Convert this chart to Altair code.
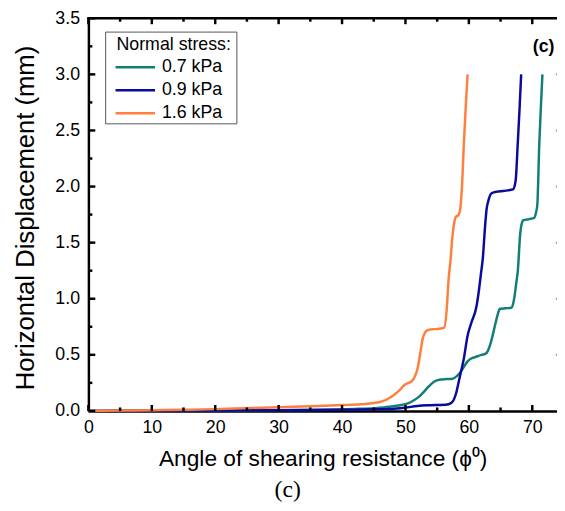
import altair as alt
import pandas as pd

# ---------------- data ----------------
names = ["0.7 kPa", "0.9 kPa", "1.6 kPa"]
colors = ["#127e78", "#0a0a9c", "#ff7f3f"]

x_07 = [0, 10, 20, 30, 37.4, 42, 45.2, 47.5, 49.3, 50.5, 51.4, 52.2, 52.9, 53.7, 54.5, 55.5,
        56.5, 57.4, 58.1, 58.7, 59.2, 59.7, 60.3, 61.0, 62.0, 62.6, 63.0, 63.3, 63.7, 64.1,
        64.5, 64.9, 65.8, 66.7, 67.0, 67.2, 67.45, 67.73, 68.1, 68.3, 68.6, 69.5, 70.3, 70.6,
        70.8, 71.1, 71.35, 71.6]
y_07 = [0, 0.002, 0.004, 0.007, 0.01, 0.017, 0.025, 0.037, 0.053, 0.07, 0.097, 0.13, 0.17,
        0.22, 0.26, 0.28, 0.284, 0.287, 0.31, 0.347, 0.39, 0.435, 0.465, 0.48, 0.5, 0.508,
        0.535, 0.58, 0.66, 0.757, 0.85, 0.91, 0.915, 0.92, 0.96, 1.02, 1.13, 1.256, 1.58,
        1.66, 1.70, 1.71, 1.72, 1.77, 1.84, 2.37, 2.7, 3.0]

x_09 = [0, 10, 20, 30, 40, 45, 47.8, 50, 51.9, 53.5, 55, 56.3, 56.8, 57.2, 57.6, 58.0, 58.4,
        58.8, 59.2, 59.8, 60.4, 61.2, 61.6, 61.9, 62.2, 62.55, 62.8, 63.06, 63.58, 64.5, 65.4,
        66.5, 66.95, 67.37, 67.7, 68.0, 68.25]
y_09 = [0, 0.002, 0.004, 0.006, 0.01, 0.014, 0.018, 0.03, 0.044, 0.05, 0.053, 0.055, 0.059,
        0.07, 0.097, 0.16, 0.26, 0.36, 0.464, 0.67, 0.787, 0.93, 1.08, 1.22, 1.36, 1.64, 1.8,
        1.87, 1.94, 1.955, 1.96, 1.97, 1.975, 2.05, 2.37, 2.7, 3.0]

x_16 = [0, 5, 10, 15, 20, 25, 30, 35, 40, 43, 46, 47.8, 49, 49.8, 50.5, 51.1, 51.5, 51.9, 52.3,
        52.7, 53.1, 53.5, 54.2, 55, 56.1, 56.5, 56.8, 57.1, 57.4, 57.7, 57.9, 58.4, 58.7, 59.0,
        59.2, 59.5, 59.8]
y_16 = [0, 0.003, 0.006, 0.01, 0.016, 0.025, 0.033, 0.042, 0.052, 0.06, 0.08, 0.127, 0.18,
        0.229, 0.25, 0.272, 0.31, 0.376, 0.5, 0.64, 0.7, 0.72, 0.728, 0.73, 0.743, 0.9, 1.17,
        1.34, 1.55, 1.68, 1.725, 1.75, 1.83, 2.1, 2.37, 2.7, 3.0]

x_label_values = [0, 10, 20, 30, 40, 50, 60, 70]
x_minor_values = [5, 15, 25, 35, 45, 55, 65]
y_label_values = [0, 0.5, 1.0, 1.5, 2.0, 2.5, 3.0, 3.5]
y_minor_values = [0.25, 0.75, 1.25, 1.75, 2.25, 2.75, 3.25]

x_title = "Angle of shearing resistance (\u03d5\u2070)"
y_title = "Horizontal Displacement (mm)"
legend_title = "Normal stress:"
panel_tag = "(c)"
caption = "(c)"

# ---------------- build table ----------------
rows = []
for name, xs_, ys_ in zip(names, [x_07, x_09, x_16], [y_07, y_09, y_16]):
    for a, b in zip(xs_, ys_):
        rows.append({"series": name, "x": a, "y": b})
df = pd.DataFrame(rows)

W, H = 475, 398
FONT = "Liberation Sans"
xscale = alt.Scale(domain=[0, 73.9], nice=False, zero=False)
yscale = alt.Scale(domain=[0, 3.5], nice=False, zero=False)

x_axis = alt.Axis(
    orient="bottom", values=x_label_values, ticks=False, tickSize=0, grid=False,
    domain=True, domainColor="black", domainWidth=2.5,
    labelFontSize=18, labelColor="black", labelPadding=8, labelFlush=False, labelFont=FONT,
    title=x_title, titleFontSize=23, titleFontWeight="normal", titleColor="black",
    titleFont=FONT, titleX=237.5, titleY=55, titleBaseline="alphabetic", titleAlign="center")
y_axis = alt.Axis(
    orient="left", values=y_label_values, format=".1f", ticks=False, tickSize=0, grid=False,
    domain=True, domainColor="black", domainWidth=2.5,
    labelFontSize=18, labelColor="black", labelPadding=9, labelFont=FONT,
    title=y_title, titleFontSize=26, titleFontWeight="normal", titleColor="black",
    titleFont=FONT, titleX=-56, titleY=202, titleAngle=270, titleBaseline="alphabetic",
    titleAlign="center")

lines = alt.Chart(df).mark_line(strokeWidth=2.5, interpolate="monotone").encode(
    x=alt.X("x:Q", scale=xscale, axis=x_axis),
    y=alt.Y("y:Q", scale=yscale, axis=y_axis),
    color=alt.Color("series:N", scale=alt.Scale(domain=names, range=colors), legend=alt.Legend(
        orient="none", legendX=28.5, legendY=17.7, padding=0,
        title=legend_title, titleFontSize=18, titleFontWeight="normal", titleColor="black",
        titleFont=FONT, titlePadding=5,
        labelFontSize=18, labelColor="black", labelFont=FONT,
        symbolType="M-4,0H4", symbolSize=100, symbolStrokeWidth=2.5, symbolOffset=10,
        labelOffset=18, rowPadding=5.3)),
)

# ---------------- inward ticks, placed by the same scales ----------------
xmaj = pd.DataFrame({"x": x_label_values})
xmin = pd.DataFrame({"x": x_minor_values})
ymaj = pd.DataFrame({"y": y_label_values})
ymin = pd.DataFrame({"y": y_minor_values})


def xticks(data, y0, y1):
    return alt.Chart(data).mark_rule(color="black", strokeWidth=2.5).encode(
        x=alt.X("x:Q", scale=xscale, axis=x_axis), y=alt.value(y0), y2=alt.value(y1))


def yticks(data, x0, x1, color="black"):
    return alt.Chart(data).mark_rule(color=color, strokeWidth=2.5).encode(
        y=alt.Y("y:Q", scale=yscale, axis=y_axis), x=alt.value(x0), x2=alt.value(x1))


tick_layers = [
    xticks(xmaj, H, H - 6), xticks(xmin, H, H - 3.5),      # bottom, pointing up
    xticks(xmaj, 0, 6), xticks(xmin, 0, 3.5),              # top, pointing down
    yticks(ymaj, 0, 7), yticks(ymin, 0, 4),                # left, pointing right
    yticks(ymaj[ymaj["y"] > 0], W - 1.2, W, "#aaaaaa"),    # tips of the cut-off right axis ticks
]

top_border = alt.Chart(pd.DataFrame({"k": [0]})).mark_rule(
    color="black", strokeWidth=2.5, strokeCap="square"
).encode(x=alt.value(0), x2=alt.value(W + 2), y=alt.value(0))

frame = alt.Chart(pd.DataFrame({"k": [0]})).mark_rect(
    fill="white", fillOpacity=0, stroke="#555555", strokeWidth=1
).encode(x=alt.value(17.5), x2=alt.value(150.5), y=alt.value(14), y2=alt.value(107))

tag = alt.Chart(pd.DataFrame({"t": [panel_tag]})).mark_text(
    font=FONT, fontSize=18, fontWeight="bold", align="right", baseline="alphabetic", color="black"
).encode(text="t:N", x=alt.value(472.5), y=alt.value(34))

cap = alt.Chart(pd.DataFrame({"t": [caption]})).mark_text(
    font="Liberation Serif", fontSize=24, align="center", baseline="alphabetic", color="black"
).encode(text="t:N", x=alt.value(202), y=alt.value(485))

chart = alt.layer(lines, *tick_layers, top_border, frame, tag, cap).properties(
    width=W, height=H,
    autosize=alt.AutoSizeParams(type="none"),
    padding={"left": 81.5, "top": 7, "right": 0, "bottom": 96},
).configure_view(stroke=None).configure_axis(grid=False).configure(font=FONT)

chart.save("out.html", embed_options={"renderer": "svg", "actions": False})
